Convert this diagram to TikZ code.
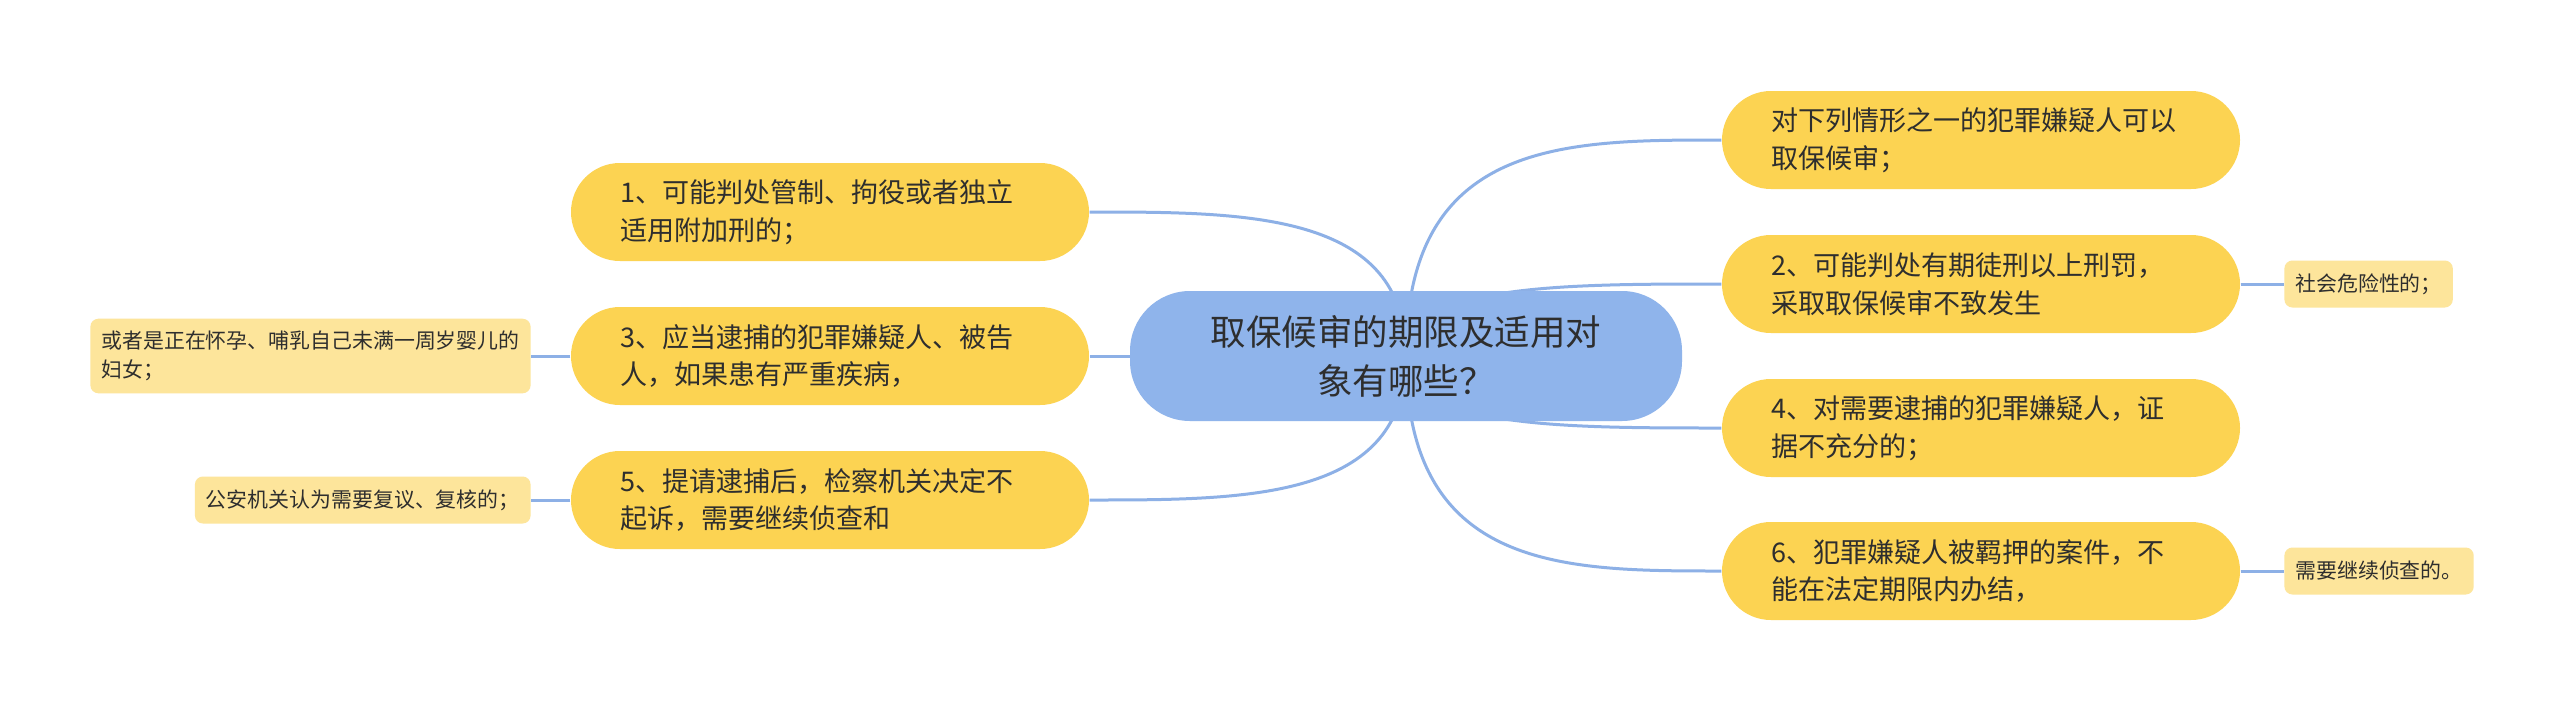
\documentclass[tikz,border=0pt]{standalone}
\usepackage{fontspec}
\newfontfamily\cjk{Noto Sans CJK SC}
\usetikzlibrary{positioning,calc,backgrounds}
\definecolor{rootblue}{HTML}{8FB4EB}
\definecolor{branchyellow}{HTML}{FCD352}
\definecolor{leafyellow}{HTML}{FDE59B}
\definecolor{linkblue}{HTML}{8DB0E6}
\definecolor{textgray}{HTML}{2E2E2E}
\begin{document}
\begin{tikzpicture}[
    root/.style={rectangle, rounded corners=0.6cm,
                 minimum width=5.52cm, minimum height=1.30cm,
                 align=center, fill=rootblue, text=textgray,
                 font=\cjk\fontsize{10.1}{13.9}\selectfont},
    branch/.style={rectangle, rounded corners=0.49cm,
                 text width=4.20cm, inner xsep=0.49cm, minimum height=0.98cm,
                 align=left, fill=branchyellow, text=textgray,
                 font=\cjk\fontsize{7.7}{10.7}\selectfont},
    leaf/.style={rectangle, rounded corners=0.08cm,
                 inner xsep=0.11cm, inner ysep=0.12cm, minimum height=0.47cm,
                 align=left, fill=leafyellow, text=textgray,
                 font=\cjk\fontsize{5.95}{8.4}\selectfont},
    link/.style={draw=linkblue, line width=0.03cm}
]
    \node[root] (root) at (14.06, 3.56)
        {取保候审的期限及适用对\\象有哪些？};

    % linke takken
    \node[branch] (n1) at (8.30, 5.00)
        {1、可能判处管制、拘役或者独立\\适用附加刑的；};
    \node[branch] (n3) at (8.30, 3.56)
        {3、应当逮捕的犯罪嫌疑人、被告\\人，如果患有严重疾病，};
    \node[branch] (n5) at (8.30, 2.12)
        {5、提请逮捕后，检察机关决定不\\起诉，需要继续侦查和};

    % rechtse takken
    \node[branch] (r0) at (19.81, 5.72)
        {对下列情形之一的犯罪嫌疑人可以\\取保候审；};
    \node[branch] (r2) at (19.81, 4.28)
        {2、可能判处有期徒刑以上刑罚，\\采取取保候审不致发生};
    \node[branch] (r4) at (19.81, 2.84)
        {4、对需要逮捕的犯罪嫌疑人，证\\据不充分的；};
    \node[branch] (r6) at (19.81, 1.41)
        {6、犯罪嫌疑人被羁押的案件，不\\能在法定期限内办结，};

    % bladeren
    \node[leaf, left=0.39cm of n3] (l3)
        {或者是正在怀孕、哺乳自己未满一周岁婴儿的\\妇女；};
    \node[leaf, left=0.39cm of n5] (l5)
        {公安机关认为需要复议、复核的；};
    \node[leaf, right=0.43cm of r2] (l2)
        {社会危险性的；};
    \node[leaf, right=0.43cm of r6] (l6)
        {需要继续侦查的。};

    \begin{pgfonlayer}{background}
        \fill[white] (0,0) rectangle (25.6,7.12);

        % wortel naar takken
        \foreach \n in {n1,n3,n5}
            \draw[link] (root.center) .. controls (root.center |- \n.east)
                and ($(root.center |- \n.east)!.5!(\n.east)$) .. (\n.east);
        \foreach \n in {r0,r2,r4,r6}
            \draw[link] (root.center) .. controls (root.center |- \n.west)
                and ($(root.center |- \n.west)!.5!(\n.west)$) .. (\n.west);

        % takken naar bladeren
        \draw[link] (n3.west) -- (l3.east);
        \draw[link] (n5.west) -- (l5.east);
        \draw[link] (r2.east) -- (l2.west);
        \draw[link] (r6.east) -- (l6.west);
    \end{pgfonlayer}
\end{tikzpicture}
\end{document}
